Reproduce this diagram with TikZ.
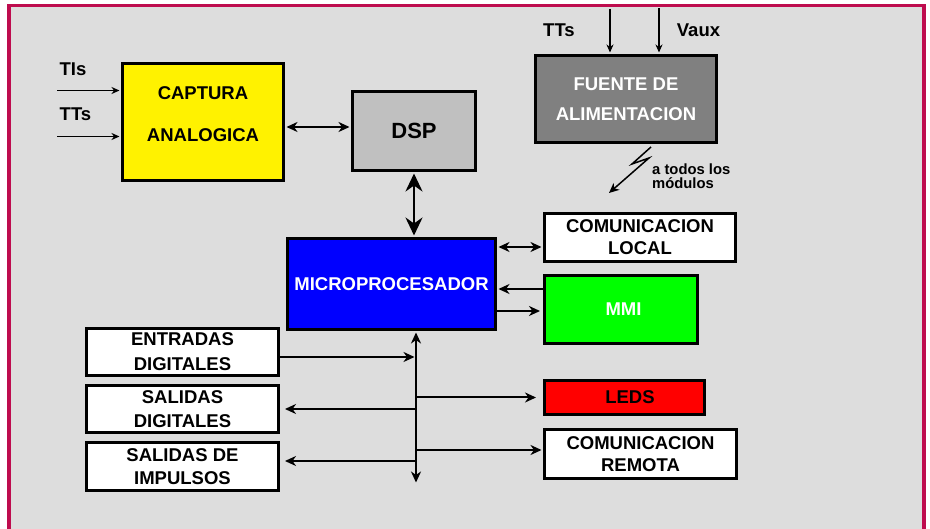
\documentclass[tikz,border=0pt]{standalone}
\usepackage{fontspec}
\setmainfont{Liberation Sans}
\usetikzlibrary{arrows.meta,calc}
\definecolor{framecol}{RGB}{190,12,78}
\definecolor{bggray}{RGB}{221,221,221}
\definecolor{dspgray}{RGB}{192,192,192}
\definecolor{fuentegray}{RGB}{128,128,128}
\begin{document}
\begin{tikzpicture}[x=1pt,y=-1pt,
  box/.style={draw=black, line width=3pt, rectangle, inner sep=0pt, align=center,
    font=\fontsize{18.5}{22}\selectfont\bfseries},
  txt/.style={inner sep=0pt, align=center, font=\fontsize{18.5}{22}\selectfont\bfseries},
  smalltxt/.style={inner sep=0pt, align=left, font=\fontsize{14.8}{14}\selectfont\bfseries},
  thinarr/.style={line width=1.6pt, -{Stealth[length=8pt,width=7pt,inset=2.5pt]}, shorten >=1.5pt},
  arr/.style={line width=2pt, -{Stealth[length=11pt,width=10pt,inset=3.5pt]}, shorten >=1.5pt},
  arrboth/.style={line width=2pt, {Stealth[length=11pt,width=10pt,inset=3.5pt]}-{Stealth[length=11pt,width=10pt,inset=3.5pt]}, shorten >=1.5pt, shorten <=1.5pt},
  bigboth/.style={line width=2.5pt, {Stealth[length=18pt,width=17pt,inset=6pt]}-{Stealth[length=18pt,width=17pt,inset=6pt]}, shorten >=1.5pt, shorten <=1.5pt}
]
\useasboundingbox (0,0) rectangle (930,529);
\fill[white] (0,0) rectangle (930,529);
\fill[bggray] (9,5.5) rectangle (924,529);
\draw[framecol, line width=3.5pt] (9,529) -- (9,5.5) -- (924,5.5) -- (924,529);

% boxes
\node[box, fill=yellow, minimum width=161pt, minimum height=117pt] (cap) at (203,122) {};
\node[txt] (captxt) at (203,114) {CAPTURA\\[20pt]ANALOGICA};
\node[box, fill=dspgray, minimum width=123pt, minimum height=79pt,
      font=\fontsize{22}{26}\selectfont\bfseries] (dsp) at (414,131) {DSP};
\node[box, fill=fuentegray, text=white, minimum width=181pt, minimum height=87pt] (fuente) at (626,99) {FUENTE DE\\[8pt]ALIMENTACION};
\node[box, fill=white, minimum width=191pt, minimum height=48pt] (comloc) at (640,237.5) {COMUNICACION\\LOCAL};
\node[box, fill=green, text=white, minimum width=153pt, minimum height=68pt] (mmi) at (621,309.5) {\hspace*{5pt}MMI};
\node[box, fill=blue, text=white, minimum width=208pt, minimum height=91pt] (micro) at (391.5,284) {MICROPROCESADOR};
\node[box, fill=white, minimum width=192pt, minimum height=47pt] (ent) at (182.5,352) {ENTRADAS\\[3pt]DIGITALES};
\node[box, fill=white, minimum width=192pt, minimum height=47pt] (saldig) at (182.5,409) {SALIDAS\\[2pt]DIGITALES};
\node[box, fill=white, minimum width=192pt, minimum height=48pt] (salimp) at (182.5,466.5) {SALIDAS DE\\[1pt]IMPULSOS};
\node[box, fill=red, minimum width=160pt, minimum height=34pt] (leds) at (624.5,397.5) {\hspace*{11pt}LEDS};
\node[box, fill=white, minimum width=192pt, minimum height=49pt] (comrem) at (640.5,454) {COMUNICACION\\REMOTA};

% labels
\node[txt] (tis) at (73,69.5) {TIs};
\node[txt] (tts1) at (75.5,114) {TTs};
\node[txt] (tts2) at (559,30) {TTs};
\node[txt] (vaux) at (698.5,30) {Vaux};
\node[smalltxt, anchor=west] (todos) at (652,176.5) {a todos los\\módulos};

% helper coordinates
\coordinate (tiin) at (57,90.5);
\coordinate (ttin) at (57,136.5);
\coordinate (ttsrc) at (610,9);
\coordinate (vauxsrc) at (659,8);
\coordinate (y127) at (0,127);
\coordinate (y247) at (0,247);
\coordinate (y289) at (0,289);
\coordinate (y311) at (0,311);
\coordinate (y357) at (0,357);
\coordinate (y409) at (0,409);
\coordinate (y450) at (0,450);
\coordinate (y461) at (0,461);
\coordinate (busend) at (416,484);
\coordinate (z1) at (651,147);
\coordinate (z2) at (632,164);
\coordinate (z3) at (649,158);
\coordinate (z4) at (609,193);

% connectors
\draw[thinarr] (tiin) -- (tiin -| cap.west);
\draw[thinarr] (ttin) -- (ttin -| cap.west);
\draw[arrboth] (cap.east |- y127) -- (dsp.west |- y127);
\draw[bigboth] (dsp.south) -- (dsp.south |- micro.north);
\draw[thinarr] (ttsrc) -- (ttsrc |- fuente.north);
\draw[thinarr] (vauxsrc) -- (vauxsrc |- fuente.north);
\draw[line width=1.5pt, -{Stealth[length=10pt,width=9pt,inset=3pt]}, line join=miter] (z1) -- (z2) -- (z3) -- (z4);
\draw[arrboth] (micro.east |- y247) -- (comloc.west |- y247);
\draw[arr] (mmi.west |- y289) -- (micro.east |- y289);
\draw[arr, shorten >=3pt] (micro.east |- y311) -- (mmi.west |- y311);
\draw[arrboth] (busend |- micro.south) -- (busend);
\draw[arr] (ent.east |- y357) -- (busend |- y357);
\draw[arr, shorten >=5pt] (busend |- y409) -- (saldig.east |- y409);
\draw[arr, shorten >=5pt] (busend |- y461) -- (salimp.east |- y461);
\draw[arr, shorten >=7pt] (busend |- leds) -- (leds.west);
\draw[arr] (busend |- y450) -- (comrem.west |- y450);
\end{tikzpicture}
\end{document}
